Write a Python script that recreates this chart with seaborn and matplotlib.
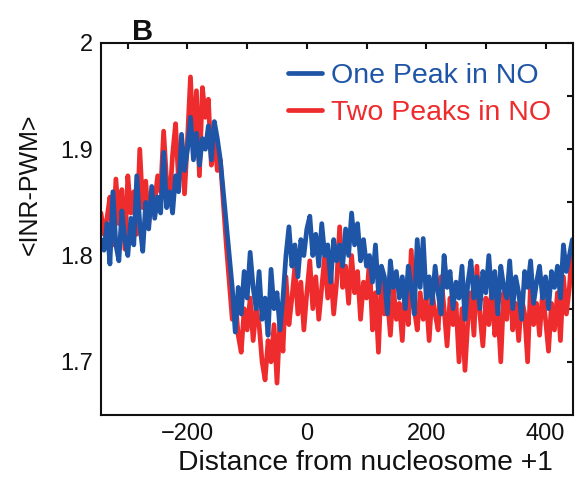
import numpy as np
import pandas as pd
import matplotlib
matplotlib.use("Agg")
import matplotlib.pyplot as plt
import seaborn as sns

# distance from nucleosome +1, one sample every 5 bp
distance = list(range(-345, 446, 5))

one_peak = [
    1.815, 1.805, 1.83, 1.792, 1.86, 1.81, 1.795, 1.842, 1.815, 1.80,
    1.835, 1.81, 1.875, 1.83, 1.804, 1.85, 1.825, 1.865, 1.835, 1.855,
    1.84, 1.897, 1.845, 1.86, 1.84, 1.875, 1.86, 1.914, 1.88, 1.90,
    1.93, 1.89, 1.915, 1.885, 1.91, 1.90, 1.922, 1.89, 1.926, 1.91,
    1.89, 1.86, 1.83, 1.80, 1.77, 1.728, 1.77, 1.745, 1.785, 1.76,
    1.803, 1.77, 1.75, 1.785, 1.74, 1.76, 1.725, 1.787, 1.75, 1.765,
    1.73, 1.76, 1.80, 1.827, 1.79, 1.81, 1.78, 1.815, 1.80, 1.825,
    1.837, 1.80, 1.82, 1.79, 1.83, 1.80, 1.81, 1.775, 1.815, 1.795,
    1.81, 1.79, 1.825, 1.80, 1.84, 1.81, 1.83, 1.795, 1.815, 1.79,
    1.80, 1.775, 1.81, 1.765, 1.79, 1.78, 1.745, 1.795, 1.77, 1.785,
    1.76, 1.78, 1.75, 1.79, 1.77, 1.745, 1.815, 1.77, 1.816, 1.76,
    1.78, 1.755, 1.79, 1.765, 1.745, 1.80, 1.77, 1.785, 1.75, 1.775,
    1.76, 1.79, 1.74, 1.775, 1.795, 1.76, 1.78, 1.75, 1.785, 1.765,
    1.80, 1.76, 1.785, 1.745, 1.79, 1.77, 1.76, 1.795, 1.75, 1.78,
    1.765, 1.74, 1.785, 1.77, 1.795, 1.755, 1.775, 1.79, 1.76, 1.78,
    1.75, 1.785, 1.77, 1.79, 1.76, 1.81, 1.785, 1.80, 1.815,
]

two_peaks = [
    1.84, 1.82, 1.835, 1.855, 1.81, 1.872, 1.83, 1.862, 1.806, 1.875,
    1.84, 1.86, 1.82, 1.90, 1.845, 1.87, 1.83, 1.86, 1.85, 1.875,
    1.86, 1.917, 1.87, 1.85, 1.895, 1.924, 1.87, 1.90, 1.858, 1.91,
    1.968, 1.90, 1.955, 1.875, 1.958, 1.93, 1.947, 1.885, 1.912, 1.88,
    1.89, 1.85, 1.81, 1.775, 1.74, 1.76, 1.725, 1.709, 1.75, 1.73,
    1.76, 1.72, 1.75, 1.735, 1.70, 1.683, 1.72, 1.70, 1.735, 1.68,
    1.74, 1.71, 1.78, 1.735, 1.76, 1.79, 1.745, 1.775, 1.73, 1.765,
    1.795, 1.75, 1.78, 1.74, 1.77, 1.80, 1.76, 1.785, 1.745, 1.775,
    1.827, 1.77, 1.79, 1.755, 1.80, 1.765, 1.785, 1.74, 1.775, 1.76,
    1.795, 1.73, 1.765, 1.709, 1.78, 1.745, 1.76, 1.725, 1.77, 1.74,
    1.755, 1.72, 1.775, 1.735, 1.805, 1.75, 1.73, 1.765, 1.74, 1.76,
    1.72, 1.765, 1.745, 1.73, 1.78, 1.75, 1.715, 1.76, 1.735, 1.755,
    1.70, 1.75, 1.692, 1.74, 1.765, 1.725, 1.79, 1.745, 1.715, 1.76,
    1.735, 1.77, 1.725, 1.75, 1.70, 1.765, 1.74, 1.785, 1.73, 1.755,
    1.72, 1.76, 1.745, 1.70, 1.775, 1.735, 1.755, 1.725, 1.765, 1.74,
    1.71, 1.755, 1.73, 1.765, 1.72, 1.78, 1.745, 1.77, 1.812,
]

x_ticks = [-300, -200, -100, 0, 100, 200, 300, 400]
x_labels = ["", "\u2212200", "", "0", "", "200", "", "400"]
y_ticks = [1.7, 1.75, 1.8, 1.85, 1.9, 1.95, 2.0]
y_labels = ["1.7", "", "1.8", "", "1.9", "", "2"]

blue = "#1f55a6"
red = "#ee2c2e"
ink = "#111111"

sns.set_style("white")
plt.rcParams["font.family"] = ["Liberation Sans", "DejaVu Sans"]

fig = plt.figure(figsize=(5.83, 4.82), dpi=100)
ax = fig.add_axes([0.1732, 0.139, 0.8096, 0.772])

df = pd.DataFrame({"distance": distance, "one": one_peak, "two": two_peaks})
sns.lineplot(data=df, x="distance", y="two", color=red, linewidth=3.4,
             label="Two Peaks in NO", ax=ax)
sns.lineplot(data=df, x="distance", y="one", color=blue, linewidth=3.4,
             label="One Peak in NO", ax=ax)

ax.set_xlim(-345, 446)
ax.set_ylim(1.65, 2.0)
ax.set_xticks(x_ticks)
ax.set_xticklabels(x_labels)
ax.set_yticks(y_ticks)
ax.set_yticklabels(y_labels)
ax.tick_params(direction="in", length=4, width=1.5, top=True, right=True,
               labelsize=17, pad=6, colors=ink)
for s in ax.spines.values():
    s.set_linewidth(1.5)
    s.set_color(ink)

ax.set_xlabel("Distance from nucleosome +1", fontsize=20.3, color=ink)
ax.xaxis.set_label_coords(0.561, -0.095)
ax.set_ylabel("<INR-PWM>", fontsize=18, color=ink)
ax.yaxis.set_label_coords(-0.125, 0.62)

handles, labels = ax.get_legend_handles_labels()
leg = ax.legend(handles[::-1], labels[::-1], loc="upper left",
                bbox_to_anchor=(0.396, 0.945), frameon=False, fontsize=20.5,
                handlelength=1.2, handletextpad=0.33, labelspacing=0.38,
                borderpad=0, borderaxespad=0)
for txt, c in zip(leg.get_texts(), [blue, red]):
    txt.set_color(c)

fig.text(0.226, 0.917, "B", fontsize=21, fontweight="bold", color=ink)

fig.savefig("out.png", dpi=100)
